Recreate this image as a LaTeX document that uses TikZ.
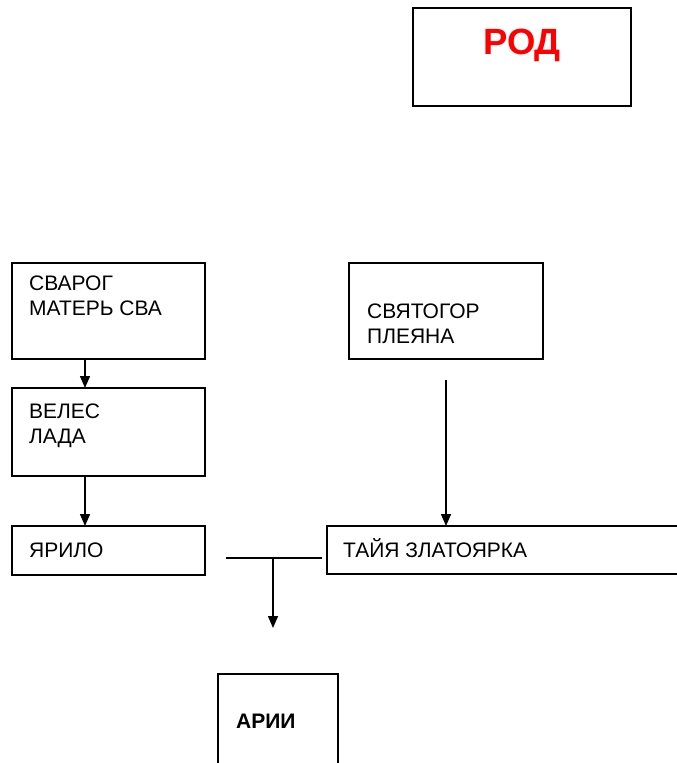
\documentclass[tikz,border=0pt]{standalone}
\usepackage{fontspec}
\setmainfont{Liberation Sans}
\usetikzlibrary{arrows.meta,calc}
\definecolor{rodred}{rgb}{1,0,0}

\begin{document}
\begin{tikzpicture}[x=1pt,y=-1pt,
        box/.style={draw,line width=1.8pt,inner sep=0pt,outer sep=0pt,anchor=north west},
        lbl/.style={inner sep=0pt,anchor=base west,align=left,font=\fontsize{21}{25}\selectfont},
        arr/.style={line width=1.4pt,-{Triangle[length=12pt,width=10pt]}},
        link/.style={line width=1.4pt}]
            \useasboundingbox (0,0) rectangle (677,763);
            %Boxes
            \node[box,minimum width=218pt,minimum height=98pt] (rod) at (413,8) {};
            \node[box,minimum width=193pt,minimum height=96pt] (svarog) at (12,263) {};
            \node[box,minimum width=194pt,minimum height=96pt] (svyatogor) at (349,263) {};
            \node[box,minimum width=193pt,minimum height=88pt] (veles) at (12,388) {};
            \node[box,minimum width=193pt,minimum height=49pt] (yarilo) at (12,526) {};
            \node[box,minimum width=370pt,minimum height=48pt] (taiya) at (327,526) {};
            \node[box,minimum width=120pt,minimum height=100pt] (arii) at (218,674) {};
            %Texts
            \node[lbl,text=rodred,font=\fontsize{36.5}{40}\selectfont\bfseries] (rodtxt) at (483,54) {РОД};
            \node[lbl] (svarogtxt) at (29,315) {СВАРОГ\\МАТЕРЬ СВА};
            \node[lbl] (velestxt) at (29,443) {ВЕЛЕС\\ЛАДА};
            \node[lbl] (svyatogortxt) at (367,343) {СВЯТОГОР\\ПЛЕЯНА};
            \node[lbl] (yarilotxt) at (29,557) {ЯРИЛО};
            \node[lbl] (taiyatxt) at (343,557) {ТАЙЯ ЗЛАТОЯРКА};
            \node[lbl,font=\fontsize{21}{25}\selectfont\bfseries] (ariitxt) at (236,728) {АРИИ};
            %Join points
            \coordinate (joinL) at (226,558);
            \coordinate (joinM) at (273,558);
            %Arrows
            \draw[arr] ($(svarog.south west)+(73,0)$) -- ($(veles.north west)+(73,0)$);
            \draw[arr] ($(veles.south west)+(73,0)$) -- ($(yarilo.north west)+(73,0)$);
            \draw[arr] ($(svyatogor.south west)+(97,21)$) -- ($(taiya.north west)+(119,0)$);
            \draw[link] (joinL) -- ($(joinL -| taiya.west)+(-5,0)$);
            \draw[arr] (joinM) -- ($(arii.north west)+(55,-46)$);
        \end{tikzpicture}
\end{document}
